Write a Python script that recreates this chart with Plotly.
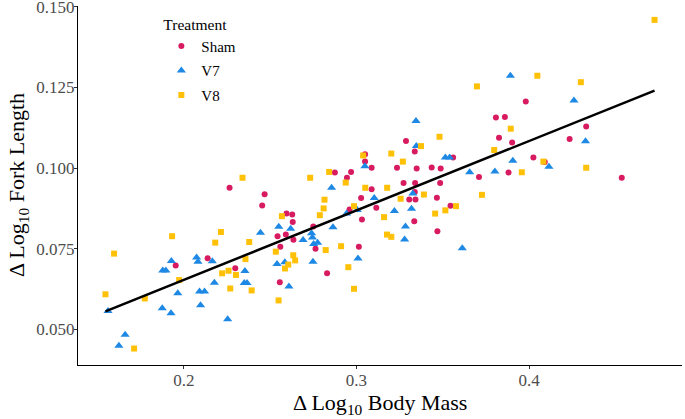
import plotly.graph_objects as go

# ---- data ----
sham_x = [0.2265, 0.2468, 0.2454, 0.2595, 0.2628, 0.2631, 0.2543, 0.2591, 0.2635, 0.2559,
          0.2138, 0.1953, 0.2298, 0.2556, 0.2750, 0.2763, 0.2830, 0.3014, 0.3032, 0.2960,
          0.3027, 0.3088, 0.3115, 0.2945, 0.2969, 0.2875, 0.3050, 0.3050, 0.3088, 0.3235,
          0.3349, 0.3436, 0.3488, 0.3560, 0.3287, 0.3338, 0.3273, 0.3340, 0.3485, 0.3338,
          0.3306, 0.3342, 0.3466, 0.3545, 0.3335, 0.3469, 0.3710, 0.3808, 0.3860, 0.3826,
          0.3902, 0.3981, 0.3881, 0.4025, 0.4091, 0.4235, 0.4331, 0.4537]
sham_y = [0.0939, 0.0919, 0.0884, 0.0859, 0.0856, 0.0833, 0.0789, 0.0794, 0.0778, 0.0756,
          0.0721, 0.0698, 0.0690, 0.0646, 0.0819, 0.0750, 0.0674, 0.0756, 0.0841, 0.0872,
          0.0907, 0.0934, 0.0877, 0.0970, 0.0988, 0.0986, 0.1043, 0.1020, 0.1001, 0.1001,
          0.0999, 0.1002, 0.0999, 0.1033, 0.1084, 0.1051, 0.0954, 0.0954, 0.0954, 0.0926,
          0.0903, 0.0903, 0.0908, 0.0883, 0.0835, 0.0804, 0.0972, 0.1157, 0.1158, 0.1094,
          0.1079, 0.1206, 0.0986, 0.1033, 0.1019, 0.1090, 0.1129, 0.0970]

v7_x = [0.1561, 0.1660, 0.1624, 0.1875, 0.1926, 0.1878, 0.1896, 0.1928, 0.1965, 0.2074,
        0.2082, 0.2165, 0.2177, 0.2091, 0.2120, 0.2097, 0.2254, 0.2354, 0.2350, 0.2366,
        0.2444, 0.2550, 0.2540, 0.2585, 0.2619, 0.2609, 0.2691, 0.2740, 0.2745, 0.2752,
        0.2775, 0.2748, 0.2864, 0.2856, 0.2943, 0.3005, 0.3009, 0.3049, 0.3103, 0.3345,
        0.3347, 0.3515, 0.3540, 0.3656, 0.3327, 0.3220, 0.3319, 0.3284, 0.3279, 0.3613,
        0.3802, 0.3892, 0.4260, 0.4327, 0.3906, 0.4115]
v7_y = [0.0557, 0.0484, 0.0450, 0.0566, 0.0550, 0.0683, 0.0683, 0.0712, 0.0612, 0.0723,
        0.0710, 0.0711, 0.0645, 0.0618, 0.0618, 0.0575, 0.0532, 0.0681, 0.0644, 0.0644,
        0.0800, 0.0818, 0.0703, 0.0708, 0.0812, 0.0633, 0.0777, 0.0798, 0.0785, 0.0765,
        0.0769, 0.0710, 0.0817, 0.0939, 0.0859, 0.0870, 0.0720, 0.1006, 0.0907, 0.1146,
        0.1068, 0.1033, 0.1033, 0.0987, 0.0921, 0.0867, 0.0874, 0.0819, 0.0779, 0.0752,
        0.0989, 0.1286, 0.1209, 0.1083, 0.1023, 0.1004]

v8_x = [0.1546, 0.1596, 0.1712, 0.1774, 0.1932, 0.1973, 0.2215, 0.2182, 0.2379, 0.2357,
        0.2259, 0.2222, 0.2302, 0.2269, 0.2393, 0.2549, 0.2568, 0.2340, 0.2533, 0.2586,
        0.2605, 0.2634, 0.2645, 0.2732, 0.2842, 0.3039, 0.2938, 0.3051, 0.2815, 0.2810,
        0.2788, 0.2986, 0.2911, 0.2822, 0.2953, 0.2986, 0.3177, 0.3202, 0.3160, 0.3256,
        0.3178, 0.3391, 0.3456, 0.3515, 0.3577, 0.3269, 0.3202, 0.3374, 0.3481, 0.3698,
        0.3798, 0.3727, 0.3894, 0.4048, 0.4300, 0.4083, 0.3958, 0.4331, 0.4727]
v8_y = [0.0609, 0.0735, 0.0441, 0.0596, 0.0789, 0.0653, 0.0802, 0.0769, 0.0771, 0.0718,
        0.0682, 0.0674, 0.0669, 0.0627, 0.0621, 0.0590, 0.0851, 0.0970, 0.0741, 0.0689,
        0.0701, 0.0730, 0.0714, 0.0970, 0.0988, 0.1039, 0.0955, 0.0939, 0.0902, 0.0875,
        0.0854, 0.0882, 0.0758, 0.0746, 0.0693, 0.0626, 0.0794, 0.0787, 0.0848, 0.0905,
        0.0939, 0.0918, 0.0859, 0.0869, 0.0882, 0.1020, 0.1045, 0.1068, 0.1097, 0.1253,
        0.1056, 0.0917, 0.1122, 0.1286, 0.1266, 0.1020, 0.0987, 0.1001, 0.1459]

fit_x = [0.1546, 0.4727]
fit_y = [0.0556, 0.1240]

x_ticks = [0.2, 0.3, 0.4]
x_tick_text = ["0.2", "0.3", "0.4"]
y_ticks = [0.050, 0.075, 0.100, 0.125, 0.150]
y_tick_text = ["0.050", "0.075", "0.100", "0.125", "0.150"]

SERIF = "Liberation Serif, Times New Roman, serif"

fig = go.Figure()
fig.add_trace(go.Scatter(x=sham_x, y=sham_y, mode="markers", name="Sham", legendgroup="Sham",
                         marker=dict(symbol="circle", size=6, color="#D81B60")))
fig.add_trace(go.Scatter(x=v7_x, y=v7_y, mode="markers", name="V7", legendgroup="V7",
                         marker=dict(symbol="triangle-up", size=8, color="#1E88E5")))
fig.add_trace(go.Scatter(x=v8_x, y=v8_y, mode="markers", name="V8", legendgroup="V8",
                         marker=dict(symbol="square", size=6, color="#FFC107")))
fig.add_trace(go.Scatter(x=fit_x, y=fit_y, mode="lines", showlegend=False,
                         line=dict(color="black", width=2.5)))

axis_common = dict(showgrid=False, zeroline=False, showline=True, linecolor="black",
                   linewidth=1.2, ticks="outside", ticklen=3, tickcolor="#333333",
                   automargin=False, ticklabeloverflow="allow", ticklabelstandoff=-4,
                   tickfont=dict(family=SERIF, size=17, color="#4d4d4d"))

fig.update_layout(
    width=685, height=419,
    margin=dict(l=78, r=3, t=6, b=54),
    paper_bgcolor="white", plot_bgcolor="white",
    font=dict(family=SERIF, color="black"),
    xaxis=dict(range=[0.1387, 0.4886], tickvals=x_ticks, ticktext=x_tick_text,
               **axis_common),
    yaxis=dict(range=[0.0390, 0.1502], tickvals=y_ticks, ticktext=y_tick_text,
               **axis_common),
    legend=dict(title=dict(text="Treatment", font=dict(family=SERIF, size=15.5)),
                font=dict(family=SERIF, size=15, color="black"),
                x=0.138, y=0.99, xanchor="left", yanchor="top",
                tracegroupgap=2,
                bgcolor="rgba(0,0,0,0)"),
    annotations=[
        dict(text="\u0394 Log<sub>10</sub> Body Mass", xref="paper", yref="paper",
             x=0.5, y=-0.064, yanchor="top", xanchor="center", showarrow=False,
             font=dict(family=SERIF, size=22, color="black")),
        dict(text="\u0394 Log<sub>10</sub> Fork Length", xref="paper", yref="paper",
             x=-0.1, y=0.5, xanchor="center", yanchor="middle", textangle=-90,
             showarrow=False, font=dict(family=SERIF, size=22, color="black")),
    ],
)

fig.write_html("out.html", config={"displayModeBar": False},
               post_script="document.body.style.margin='0px';document.body.style.overflow='hidden';")
